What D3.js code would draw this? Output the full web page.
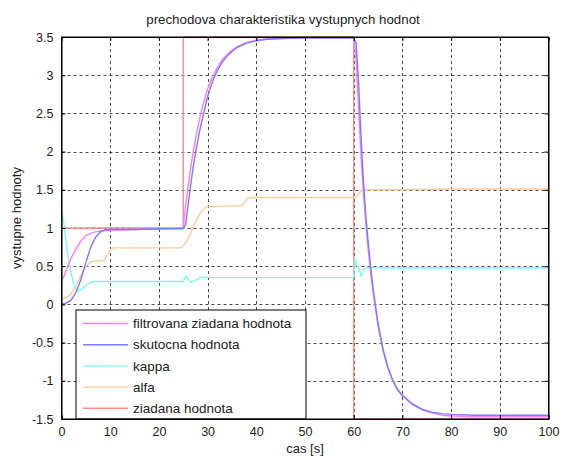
<!DOCTYPE html>
<html>
<head>
<meta charset="utf-8">
<script src="https://cdn.jsdelivr.net/npm/d3@7"></script>
<style>
  html, body { margin: 0; padding: 0; background: #fff; }
  svg { display: block; }
  text { font-family: "Liberation Sans", Arial, Helvetica, sans-serif; fill: #222; }
</style>
</head>
<body>
<svg id="chart" width="563" height="457"></svg>
<script>
// ---- data ----
const title = "prechodova charakteristika vystupnych hodnot";
const xLabel = "cas [s]";
const yLabel = "vystupne hodnoty";
const xTicks = [0, 10, 20, 30, 40, 50, 60, 70, 80, 90, 100];
const yTicks = [-1.5, -1, -0.5, 0, 0.5, 1, 1.5, 2, 2.5, 3, 3.5];
const seriesNames = ["filtrovana ziadana hodnota", "skutocna hodnota", "kappa", "alfa", "ziadana hodnota"];

const filtT = [0,0.5,1,1.5,2,3,4,5,6,7,8,10,15,20,25,25.5,26,26.5,27,27.5,28,28.5,29,30,31,32,33,34,35,36,37,38,40,42,45,50,55,60,60.5,61,61.5,62,62.5,63,63.5,64,65,66,67,68,69,70,72,74,76,78,80,85,90,100];
const filtV = [0.3,0.37,0.45,0.53,0.61,0.73,0.83,0.9,0.93,0.95,0.96,0.97,0.98,0.99,1.0,1.3,1.55,1.78,1.98,2.16,2.32,2.47,2.6,2.82,2.98,3.1,3.2,3.27,3.33,3.37,3.4,3.43,3.46,3.47,3.48,3.49,3.49,3.49,3.2,2.55,1.95,1.45,1.05,0.7,0.4,0.15,-0.28,-0.6,-0.83,-1.0,-1.12,-1.2,-1.31,-1.38,-1.42,-1.45,-1.46,-1.47,-1.47,-1.47];

const skutT = [0,1,2,3,4,5,6,7,8,9,10,15,20,25,25.5,26,26.5,27,27.5,28,28.5,29,30,31,32,33,34,35,36,37,38,40,42,45,50,55,60,60.5,61,61.5,62,62.5,63,63.5,64,65,66,67,68,69,70,72,74,76,78,80,85,90,100];
const skutV = [0,0.02,0.06,0.16,0.33,0.55,0.75,0.88,0.95,0.98,0.98,0.98,0.99,0.99,1.05,1.3,1.55,1.78,1.98,2.15,2.31,2.45,2.72,2.92,3.06,3.17,3.25,3.31,3.36,3.39,3.42,3.45,3.47,3.48,3.49,3.49,3.49,3.42,2.9,2.2,1.6,1.15,0.8,0.48,0.2,-0.25,-0.58,-0.82,-0.99,-1.11,-1.19,-1.3,-1.37,-1.41,-1.43,-1.44,-1.45,-1.45,-1.45];

const kappaT = [0,0.5,1,1.5,2,2.5,3,3.5,4,5,6,7,10,15,20,25,25.5,26,26.5,27,28,29,30,35,40,50,60,60.15,60.6,61,61.3,61.6,61.9,62.3,63,70,80,90,100];
const kappaV = [1.25,1.05,0.78,0.56,0.4,0.27,0.2,0.17,0.19,0.25,0.29,0.3,0.3,0.3,0.3,0.3,0.37,0.33,0.29,0.3,0.33,0.36,0.35,0.35,0.35,0.35,0.35,0.6,0.52,0.47,0.42,0.37,0.44,0.47,0.48,0.48,0.48,0.48,0.48];

const alfaT = [0,1,2,3,4,5,6,7,8,8.8,9.5,10.2,11,15,20,24.5,25.5,26.5,27.5,28.5,29.5,30,35,37,37.5,38.2,40,50,60,60.7,61.4,62,63,70,80,90,100];
const alfaV = [0.07,0.09,0.14,0.25,0.38,0.49,0.56,0.57,0.57,0.58,0.66,0.73,0.74,0.74,0.74,0.74,0.8,0.93,1.08,1.2,1.27,1.28,1.29,1.29,1.33,1.39,1.4,1.4,1.4,1.42,1.48,1.5,1.5,1.5,1.51,1.51,1.51];

const ziadT = [0,25,25,60,60,100];
const ziadV = [1,1,3.5,3.5,-1.5,-1.5];

// ---- drawing ----
const colors = ["#ff7cff", "#7b7bff", "#7ff7f7", "#ffc99a", "#ff8a8a"];
const svg = d3.select("#chart");
const m = { left: 61.5, right: 563 - 548.5, top: 37, bottom: 457 - 419 };
const W = 563, H = 457;
const x = d3.scaleLinear().domain([0, 100]).range([m.left, W - m.right]);
const y = d3.scaleLinear().domain([-1.5, 3.5]).range([H - m.bottom, m.top]);

// grid
const grid = svg.append("g").attr("stroke", "#000").attr("stroke-opacity", 0.7)
  .attr("stroke-width", 1).attr("stroke-dasharray", "3,3");
grid.selectAll("line.v").data(xTicks.slice(1, -1)).join("line")
  .attr("x1", d => Math.round(x(d)) + 0.5).attr("x2", d => Math.round(x(d)) + 0.5)
  .attr("y1", y(3.5)).attr("y2", y(-1.5));
grid.selectAll("line.h").data(yTicks.slice(1, -1)).join("line")
  .attr("y1", d => Math.round(y(d)) + 0.5).attr("y2", d => Math.round(y(d)) + 0.5)
  .attr("x1", x(0)).attr("x2", x(100));

// series
const seriesData = [
  [filtT, filtV], [skutT, skutV], [kappaT, kappaV], [alfaT, alfaV], [ziadT, ziadV]
];
const line = d3.line().x(d => x(d[0])).y(d => y(d[1]));
const drawOrder = [4, 3, 2, 0, 1];
drawOrder.forEach(i => {
  const [ts, vs] = seriesData[i];
  const pts = ts.map((t, k) => [t, vs[k]]);
  svg.append("path").datum(pts).attr("d", line)
    .attr("fill", "none").attr("stroke", colors[i]).attr("stroke-width", 1.4)
    .attr("stroke-linejoin", "round");
});

// axes (ticks inside, MATLAB style)
const xAxisB = d3.axisBottom(x).tickValues(xTicks).tickSize(-4).tickPadding(8).tickFormat(d3.format("d"));
const xAxisT = d3.axisTop(x).tickValues(xTicks).tickSize(-4).tickFormat("");
const yAxisL = d3.axisLeft(y).tickValues(yTicks).tickSize(-4).tickPadding(8).tickFormat(d => String(d));
const yAxisR = d3.axisRight(y).tickValues(yTicks).tickSize(-4).tickFormat("");
function style(g) {
  g.selectAll("path").attr("stroke", "#000");
  g.selectAll("line").attr("stroke", "#000");
  g.selectAll("text").attr("font-size", 12.5).attr("fill", "#222")
    .style("font-family", '"Liberation Sans", Arial, sans-serif');
}
svg.append("g").attr("transform", `translate(0,${y(-1.5)})`).call(xAxisB).call(style);
svg.append("g").attr("transform", `translate(0,${y(3.5)})`).call(xAxisT).call(style);
svg.append("g").attr("transform", `translate(${x(0)},0)`).call(yAxisL).call(style);
svg.append("g").attr("transform", `translate(${x(100)},0)`).call(yAxisR).call(style);

// legend
const lg = svg.append("g");
const lx0 = 76, ly0 = 310, lw = 230, lh = 109;
lg.append("rect").attr("x", lx0).attr("y", ly0).attr("width", lw).attr("height", lh)
  .attr("fill", "#fff").attr("stroke", "#000").attr("stroke-width", 1);
seriesNames.forEach((name, i) => {
  const yy = ly0 + 13.5 + i * 21.2;
  lg.append("line").attr("x1", lx0 + 7).attr("x2", lx0 + 52).attr("y1", yy).attr("y2", yy)
    .attr("stroke", colors[i]).attr("stroke-width", 1.4);
  lg.append("text").attr("x", lx0 + 57).attr("y", yy + 4.6).attr("font-size", 13.5).text(name);
});

// frame on top
svg.append("rect").attr("x", x(0)).attr("y", y(3.5)).attr("width", x(100) - x(0)).attr("height", y(-1.5) - y(3.5))
  .attr("fill", "none").attr("stroke", "#000").attr("stroke-width", 1);

// titles
svg.append("text").attr("x", 283).attr("y", 24).attr("text-anchor", "middle")
  .attr("font-size", 13.3).text(title);
svg.append("text").attr("x", (x(0) + x(100)) / 2).attr("y", 453).attr("text-anchor", "middle")
  .attr("font-size", 13).text(xLabel);
svg.append("text").attr("transform", `translate(21,${218}) rotate(-90)`).attr("text-anchor", "middle")
  .attr("font-size", 13).text(yLabel);
</script>
</body>
</html>
